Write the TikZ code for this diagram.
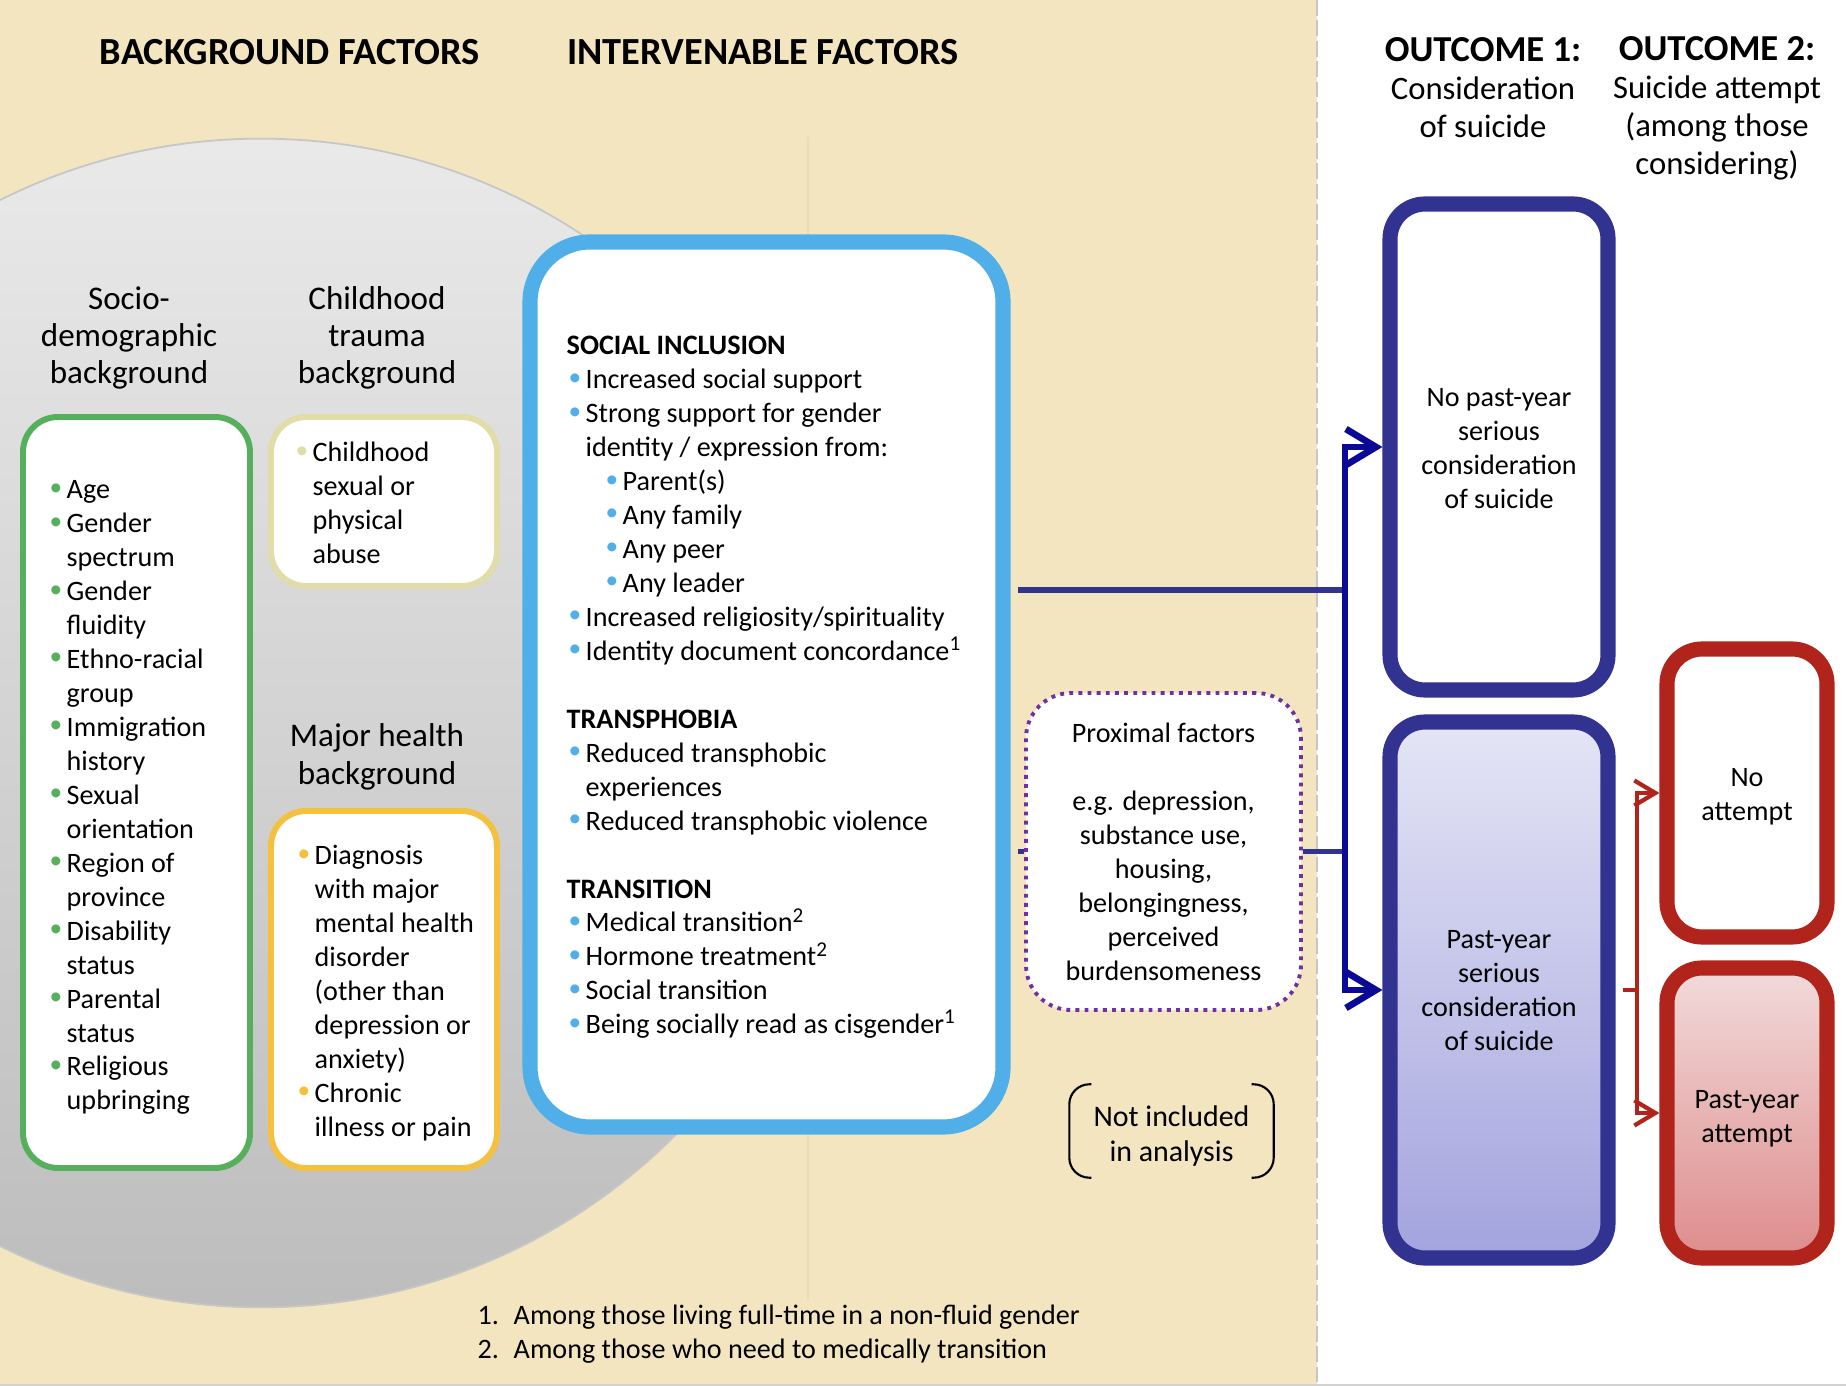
\documentclass[tikz,border=0pt]{standalone}
\usepackage{fontspec}
\setmainfont{Carlito}
\usepackage{xcolor}
\usepackage{graphicx}
\usetikzlibrary{positioning, arrows.meta, calc, fit}

\definecolor{beige}{RGB}{242,229,191}
\definecolor{bggreen}{RGB}{85,175,92}
\definecolor{bgkhaki}{RGB}{226,220,168}
\definecolor{bgyellow}{RGB}{245,192,62}
\definecolor{ivblue}{RGB}{80,174,232}
\definecolor{ocnavy}{RGB}{50,50,145}
\definecolor{trunkblue}{RGB}{10,10,150}
\definecolor{ocred}{RGB}{176,36,28}
\definecolor{proxpurple}{RGB}{112,48,160}
\definecolor{lavtop}{RGB}{229,229,246}
\definecolor{lavbot}{RGB}{163,163,222}
\definecolor{rosetop}{RGB}{242,219,219}
\definecolor{rosebot}{RGB}{222,140,140}

\newcommand{\bodyfont}{\fontsize{8}{9.66}\selectfont}
\newcommand{\subfont}{\fontsize{9.4}{10.6}\selectfont}
\newcommand{\headfont}{\fontsize{10.9}{10.8}\selectfont}
\newcommand{\dotb}[1]{\makebox[0.19cm][l]{\hspace{0.02cm}\textcolor{#1}{\raisebox{0.25ex}{\scalebox{0.9}{\textbullet}}}}}
\newcommand{\hang}{\hspace*{0.19cm}}

\begin{document}
\begin{tikzpicture}[x=0.01cm, y=-0.01cm,
    every node/.style={inner sep=0pt},
    headtxt/.style={font=\headfont\bfseries},
    subtxt/.style={font=\subfont, align=center},
    outhead/.style={font=\fontsize{9.3}{10.8}\selectfont, align=center},
    listtxt/.style={font=\bodyfont, align=left, anchor=north west},
    boxtxt/.style={font=\bodyfont, align=center},
    bgbox/.style={draw, line width=1.7pt, rounded corners=0.35cm, fill=white},
    ivbox/.style={draw=ivblue, line width=4.3pt, rounded corners=0.6cm, fill=white},
    ocbox/.style={draw=ocnavy, line width=4.3pt, rounded corners=0.35cm},
    atbox/.style={draw=ocred, line width=4.3pt, rounded corners=0.35cm},
    proxbox/.style={draw=proxpurple, line width=1.1pt, dash pattern=on 1.1pt off 1.5pt, rounded corners=0.45cm, fill=white},
    navyline/.style={draw=ocnavy, line width=1.6pt},
    trunk/.style={draw=trunkblue, line width=1.6pt, -{Straight Barb[length=0.3cm, width=0.36cm, line width=1.9pt]}},
    redlink/.style={draw=ocred, line width=1pt},
    redarrow/.style={redlink, -{Straight Barb[length=0.21cm, width=0.25cm, line width=1.2pt]}}
  ]

  % background
  \useasboundingbox (0,0) rectangle (1846,1386);
  \fill[white] (0,0) rectangle (1846,1386);
  \fill[beige] (0,0) rectangle (1317,1386);
  \draw[beige!96!black, line width=0.4pt] (808,137) -- (808,1300);
  \begin{scope}
    \clip (0,0) rectangle (1317,1386);
    \shade[top color=gray!17, bottom color=gray!52, draw=gray!45, line width=0.5pt] (261,723) circle (5.84cm);
  \end{scope}
  \draw[gray!45, line width=0.8pt, dash pattern=on 4.5pt off 1.3pt] (1317,0) -- (1317,1386);
  \draw[gray!35, line width=0.5pt] (0,1385) -- (1846,1385);

  % headings
  \node[headtxt] (bgfhead) at (290,52) {BACKGROUND FACTORS};
  \node[headtxt] (ivfhead) at (763,52) {INTERVENABLE FACTORS};
  \node[outhead] (oc1head) at (1483,88) {{\fontsize{10.4}{10.8}\selectfont\bfseries OUTCOME 1:}\\Consideration\\of suicide};
  \node[outhead] (oc2head) at (1717,108) {{\fontsize{10.4}{10.8}\selectfont\bfseries OUTCOME 2:}\\Suicide attempt\\(among those\\considering)};

  \node[subtxt] (sociohead) at (129,338) {Socio-\\demographic\\background};
  \node[subtxt] (traumahead) at (377,338) {Childhood\\trauma\\background};
  \node[subtxt] (healthhead) at (377,757) {Major health\\background};

  % boxes
  \node[bgbox, draw=bggreen, fit={(23,417) (250,1168)}] (sociobox) {};
  \node[bgbox, draw=bgkhaki, fit={(271,417) (497,586)}] (traumabox) {};
  \node[bgbox, draw=bgyellow, fit={(271,811) (497,1168)}] (healthbox) {};
  \node[ivbox, fit={(530,242) (1003,1127)}] (intvbox) {};
  \node[proxbox, fit={(1026,693) (1301,1010)}] (proxbox) {};
  \node[fit={(1070,1085) (1273,1177)}] (nibox) {};
  \node[ocbox, fill=white, fit={(1390,204) (1608,690)}] (noconsbox) {};
  \node[ocbox, top color=lavtop, bottom color=lavbot, fit={(1390,722) (1608,1258)}] (consbox) {};
  \node[atbox, fill=white, fit={(1667,649) (1827,937)}] (noattbox) {};
  \node[atbox, top color=rosetop, bottom color=rosebot, fit={(1667,968) (1827,1258)}] (attbox) {};

  % box texts
  \node[boxtxt] (proxtxt) at (proxbox.center) {Proximal factors\\[9.66pt]e.g. depression,\\substance use,\\housing,\\belongingness,\\perceived\\burdensomeness};
  \node[boxtxt, font=\fontsize{8.5}{9.8}\selectfont] (nitxt) at ($(nibox.center)+(0,5)$) {Not included\\in analysis};
  \node[boxtxt] (nocontxt) at ($(noconsbox.center)+(0,2)$) {No past-year\\serious\\consideration\\of suicide};
  \node[boxtxt] (constxt) at ($(consbox.center)+(0,1)$) {Past-year\\serious\\consideration\\of suicide};
  \node[boxtxt] (noatttxt) at ($(noattbox.center)+(0,4)$) {No\\attempt};
  \node[boxtxt] (atttxt) at ($(attbox.center)+(0,6)$) {Past-year\\attempt};

  % brackets round the note
  \draw[line width=0.6pt, rounded corners=0.2cm] ([xshift=0.22cm]nibox.north west) -- (nibox.north west) -- (nibox.south west) -- ([xshift=0.22cm]nibox.south west);
  \draw[line width=0.6pt, rounded corners=0.2cm] ([xshift=-0.22cm]nibox.north east) -- (nibox.north east) -- (nibox.south east) -- ([xshift=-0.22cm]nibox.south east);

  % lists
  \node[listtxt] (sociolist) at (47,474) {\strut\dotb{bggreen}Age\\
    \dotb{bggreen}Gender\\ \hang spectrum\\
    \dotb{bggreen}Gender\\ \hang fluidity\\
    \dotb{bggreen}Ethno-racial\\ \hang group\\
    \dotb{bggreen}Immigration\\ \hang history\\
    \dotb{bggreen}Sexual\\ \hang orientation\\
    \dotb{bggreen}Region of\\ \hang province\\
    \dotb{bggreen}Disability\\ \hang status\\
    \dotb{bggreen}Parental\\ \hang status\\
    \dotb{bggreen}Religious\\ \hang upbringing};
  \node[listtxt] (traumalist) at (293,437) {\strut\dotb{bgkhaki}Childhood\\ \hang sexual or\\ \hang physical\\ \hang abuse};
  \node[listtxt] (healthlist) at (295,840) {\strut\dotb{bgyellow}Diagnosis\\ \hang with major\\ \hang mental health\\ \hang disorder\\ \hang (other than\\ \hang depression or\\ \hang anxiety)\\
    \dotb{bgyellow}Chronic\\ \hang illness or pain};
  \node[listtxt] (intvlist) at (566,330) {\strut\textbf{SOCIAL INCLUSION}\\
    \dotb{ivblue}Increased social support\\
    \dotb{ivblue}Strong support for gender\\
    \hang identity / expression from:\\
    \hspace*{0.37cm}\dotb{ivblue}Parent(s)\\
    \hspace*{0.37cm}\dotb{ivblue}Any family\\
    \hspace*{0.37cm}\dotb{ivblue}Any peer\\
    \hspace*{0.37cm}\dotb{ivblue}Any leader\\
    \dotb{ivblue}Increased religiosity/spirituality\\
    \dotb{ivblue}Identity document concordance\textsuperscript{1}\\[9.66pt]
    \textbf{TRANSPHOBIA}\\
    \dotb{ivblue}Reduced transphobic\\
    \hang experiences\\
    \dotb{ivblue}Reduced transphobic violence\\[9.66pt]
    \textbf{TRANSITION}\\
    \dotb{ivblue}Medical transition\textsuperscript{2}\\
    \dotb{ivblue}Hormone treatment\textsuperscript{2}\\
    \dotb{ivblue}Social transition\\
    \dotb{ivblue}Being socially read as cisgender\textsuperscript{1}};

  % footnotes
  \node[listtxt] (notes) at (477,1300) {\strut\makebox[0.36cm][l]{1.}Among those living full-time in a non-fluid gender\\
    \makebox[0.36cm][l]{2.}Among those who need to medically transition};

  % connectors
  \coordinate (jn1) at (1345,590);
  \coordinate (jr) at (1637,990);
  \draw[navyline, shorten <=0.075cm] (intvbox.east |- jn1) -- (jn1);
  \draw[navyline, shorten <=0.075cm] (intvbox.east |- proxbox.west) -- (proxbox.west);
  \draw[navyline] (proxbox.east) -- (jn1 |- proxbox.east);
  \draw[trunk] (jn1) |- (noconsbox.west);
  \draw[trunk] (jn1) |- (consbox.west);
  \draw[redlink, shorten <=0.075cm] (consbox.east) -- (jr);
  \draw[redarrow] (jr) |- (noattbox.west);
  \draw[redarrow] (jr) |- (attbox.west);

\end{tikzpicture}
\end{document}
